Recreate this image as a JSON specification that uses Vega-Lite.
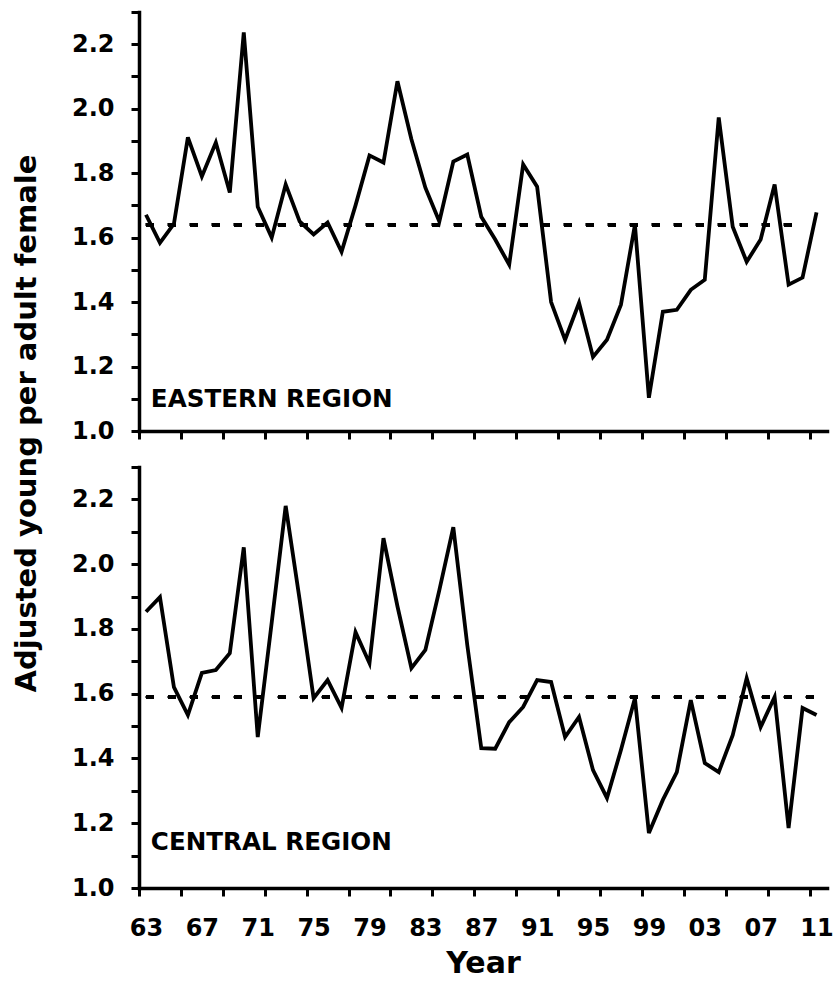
{
  "$schema": "https://vega.github.io/schema/vega-lite/v6.json",
  "padding": {"left": 12, "top": 0, "right": 0, "bottom": 0},
  "bounds": "flush",
  "spacing": 36,
  "config": {
    "view": {"stroke": null},
    "font": "DejaVu Sans",
    "axis": {
      "grid": false,
      "domainColor": "black",
      "tickColor": "black",
      "labelColor": "black",
      "titleColor": "black",
      "labelFont": "DejaVu Sans",
      "titleFont": "DejaVu Sans",
      "labelFontWeight": "bold",
      "titleFontWeight": "bold",
      "domainWidth": 3.5,
      "domainCap": "square",
      "tickWidth": 3,
      "tickSize": 8,
      "labelFontSize": 24
    }
  },
  "vconcat": [
    {
      "width": 688,
      "height": 419,
      "data": {"values": [
        {"year": 1963, "value": 1.671}, {"year": 1964, "value": 1.584}, {"year": 1965, "value": 1.643},
        {"year": 1966, "value": 1.911}, {"year": 1967, "value": 1.79}, {"year": 1968, "value": 1.895},
        {"year": 1969, "value": 1.74}, {"year": 1970, "value": 2.237}, {"year": 1971, "value": 1.696},
        {"year": 1972, "value": 1.6}, {"year": 1973, "value": 1.765}, {"year": 1974, "value": 1.65},
        {"year": 1975, "value": 1.61}, {"year": 1976, "value": 1.647}, {"year": 1977, "value": 1.556},
        {"year": 1978, "value": 1.7}, {"year": 1979, "value": 1.855}, {"year": 1980, "value": 1.833},
        {"year": 1981, "value": 2.085}, {"year": 1982, "value": 1.905}, {"year": 1983, "value": 1.755},
        {"year": 1984, "value": 1.65}, {"year": 1985, "value": 1.836}, {"year": 1986, "value": 1.858},
        {"year": 1987, "value": 1.665}, {"year": 1988, "value": 1.594}, {"year": 1989, "value": 1.516},
        {"year": 1990, "value": 1.827}, {"year": 1991, "value": 1.758}, {"year": 1992, "value": 1.4},
        {"year": 1993, "value": 1.283}, {"year": 1994, "value": 1.398}, {"year": 1995, "value": 1.23},
        {"year": 1996, "value": 1.283}, {"year": 1997, "value": 1.392}, {"year": 1998, "value": 1.64},
        {"year": 1999, "value": 1.103}, {"year": 2000, "value": 1.37}, {"year": 2001, "value": 1.376},
        {"year": 2002, "value": 1.438}, {"year": 2003, "value": 1.469}, {"year": 2004, "value": 1.973},
        {"year": 2005, "value": 1.634}, {"year": 2006, "value": 1.525}, {"year": 2007, "value": 1.594},
        {"year": 2008, "value": 1.765}, {"year": 2009, "value": 1.454}, {"year": 2010, "value": 1.476},
        {"year": 2011, "value": 1.678}
      ]},
      "layer": [
        {
          "mark": {"type": "line", "color": "black", "strokeWidth": 3.8, "strokeJoin": "miter"},
          "encoding": {
            "x": {
              "field": "year", "type": "quantitative",
              "scale": {"domain": [1962.5, 2011.75], "nice": false, "zero": false},
              "axis": {
                "title": null,
                "labels": false,
                "tickCount": 200,
                "values": [1962.5, 1965.5, 1968.5, 1971.5, 1974.5, 1977.5, 1980.5, 1983.5, 1986.5, 1989.5, 1992.5, 1995.5, 1998.5, 2001.5, 2004.5, 2007.5, 2010.5]
              }
            },
            "y": {
              "field": "value", "type": "quantitative",
              "scale": {"domain": [1, 2.3], "nice": false, "zero": false},
              "axis": {
                "values": [1, 1.1, 1.2, 1.3, 1.4, 1.5, 1.6, 1.7, 1.8, 1.9, 2, 2.1, 2.2, 2.3],
                "tickCount": 200,
                "labelExpr": "datum.value <= 2.25 && round(datum.value * 10) % 2 == 0 ? format(datum.value, '.1f') : ''",
                "labelPadding": 17,
                "labelOverlap": false,
                "labelBound": false,
                "labelFlush": false,
                "title": "Adjusted young per adult female",
                "titleFontSize": 29,
                "titleX": -113,
                "titleY": 411,
                "titleAngle": -90,
                "titleAlign": "center",
                "titleBaseline": "middle"
              }
            }
          }
        },
        {
          "mark": {"type": "rule", "color": "black", "strokeWidth": 3.5, "strokeDash": [8, 14]},
          "encoding": {
            "x": {"datum": 1963, "type": "quantitative"},
            "x2": {"datum": 2009.5},
            "y": {"datum": 1.64, "type": "quantitative"}
          }
        },
        {
          "data": {"values": [{"label": "EASTERN REGION"}]},
          "mark": {"type": "text", "align": "left", "baseline": "alphabetic", "fontSize": 24.6, "fontWeight": "bold", "font": "DejaVu Sans", "color": "black"},
          "encoding": {
            "x": {"datum": 1963.35, "type": "quantitative"},
            "y": {"datum": 1.075, "type": "quantitative"},
            "text": {"field": "label"}
          }
        }
      ]
    },
    {
      "width": 688,
      "height": 421,
      "data": {"values": [
        {"year": 1963, "value": 1.853}, {"year": 1964, "value": 1.898}, {"year": 1965, "value": 1.62},
        {"year": 1966, "value": 1.534}, {"year": 1967, "value": 1.664}, {"year": 1968, "value": 1.673},
        {"year": 1969, "value": 1.725}, {"year": 1970, "value": 2.052}, {"year": 1971, "value": 1.466},
        {"year": 1972, "value": 1.82}, {"year": 1973, "value": 2.18}, {"year": 1974, "value": 1.89},
        {"year": 1975, "value": 1.586}, {"year": 1976, "value": 1.642}, {"year": 1977, "value": 1.556},
        {"year": 1978, "value": 1.79}, {"year": 1979, "value": 1.694}, {"year": 1980, "value": 2.08},
        {"year": 1981, "value": 1.87}, {"year": 1982, "value": 1.679}, {"year": 1983, "value": 1.735},
        {"year": 1984, "value": 1.92}, {"year": 1985, "value": 2.114}, {"year": 1986, "value": 1.75},
        {"year": 1987, "value": 1.432}, {"year": 1988, "value": 1.43}, {"year": 1989, "value": 1.512},
        {"year": 1990, "value": 1.559}, {"year": 1991, "value": 1.642}, {"year": 1992, "value": 1.636},
        {"year": 1993, "value": 1.466}, {"year": 1994, "value": 1.528}, {"year": 1995, "value": 1.364},
        {"year": 1996, "value": 1.278}, {"year": 1997, "value": 1.426}, {"year": 1998, "value": 1.586},
        {"year": 1999, "value": 1.17}, {"year": 2000, "value": 1.272}, {"year": 2001, "value": 1.358},
        {"year": 2002, "value": 1.58}, {"year": 2003, "value": 1.386}, {"year": 2004, "value": 1.358},
        {"year": 2005, "value": 1.472}, {"year": 2006, "value": 1.648}, {"year": 2007, "value": 1.497},
        {"year": 2008, "value": 1.59}, {"year": 2009, "value": 1.185}, {"year": 2010, "value": 1.556},
        {"year": 2011, "value": 1.534}
      ]},
      "layer": [
        {
          "mark": {"type": "line", "color": "black", "strokeWidth": 3.8, "strokeJoin": "miter"},
          "encoding": {
            "x": {
              "field": "year", "type": "quantitative",
              "scale": {"domain": [1962.5, 2011.75], "nice": false, "zero": false},
              "axis": {
                "title": "Year",
                "titleFontSize": 30,
                "titlePadding": 8,
                "tickCount": 200,
                "values": [1962.5, 1963, 1965.5, 1967, 1968.5, 1971, 1971.5, 1974.5, 1975, 1977.5, 1979, 1980.5, 1983, 1983.5, 1986.5, 1987, 1989.5, 1991, 1992.5, 1995, 1995.5, 1998.5, 1999, 2001.5, 2003, 2004.5, 2007, 2007.5, 2010.5, 2011],
                "labelExpr": "datum.value % 1 == 0 ? format(datum.value % 100, '02d') : ''",
                "tickOpacity": {"condition": {"test": "datum.value % 1 != 0", "value": 1}, "value": 0},
                "labelPadding": 20,
                "labelOverlap": false,
                "labelBound": false,
                "labelFlush": false
              }
            },
            "y": {
              "field": "value", "type": "quantitative",
              "scale": {"domain": [1, 2.3], "nice": false, "zero": false},
              "axis": {
                "values": [1, 1.1, 1.2, 1.3, 1.4, 1.5, 1.6, 1.7, 1.8, 1.9, 2, 2.1, 2.2, 2.3],
                "tickCount": 200,
                "labelExpr": "datum.value <= 2.25 && round(datum.value * 10) % 2 == 0 ? format(datum.value, '.1f') : ''",
                "labelPadding": 17,
                "labelOverlap": false,
                "labelBound": false,
                "labelFlush": false,
                "title": null
              }
            }
          }
        },
        {
          "mark": {"type": "rule", "color": "black", "strokeWidth": 3.5, "strokeDash": [8, 14]},
          "encoding": {
            "x": {"datum": 1963, "type": "quantitative"},
            "x2": {"datum": 2011},
            "y": {"datum": 1.59, "type": "quantitative"}
          }
        },
        {
          "data": {"values": [{"label": "CENTRAL REGION"}]},
          "mark": {"type": "text", "align": "left", "baseline": "alphabetic", "fontSize": 24.6, "fontWeight": "bold", "font": "DejaVu Sans", "color": "black"},
          "encoding": {
            "x": {"datum": 1963.35, "type": "quantitative"},
            "y": {"datum": 1.117, "type": "quantitative"},
            "text": {"field": "label"}
          }
        }
      ]
    }
  ]
}
